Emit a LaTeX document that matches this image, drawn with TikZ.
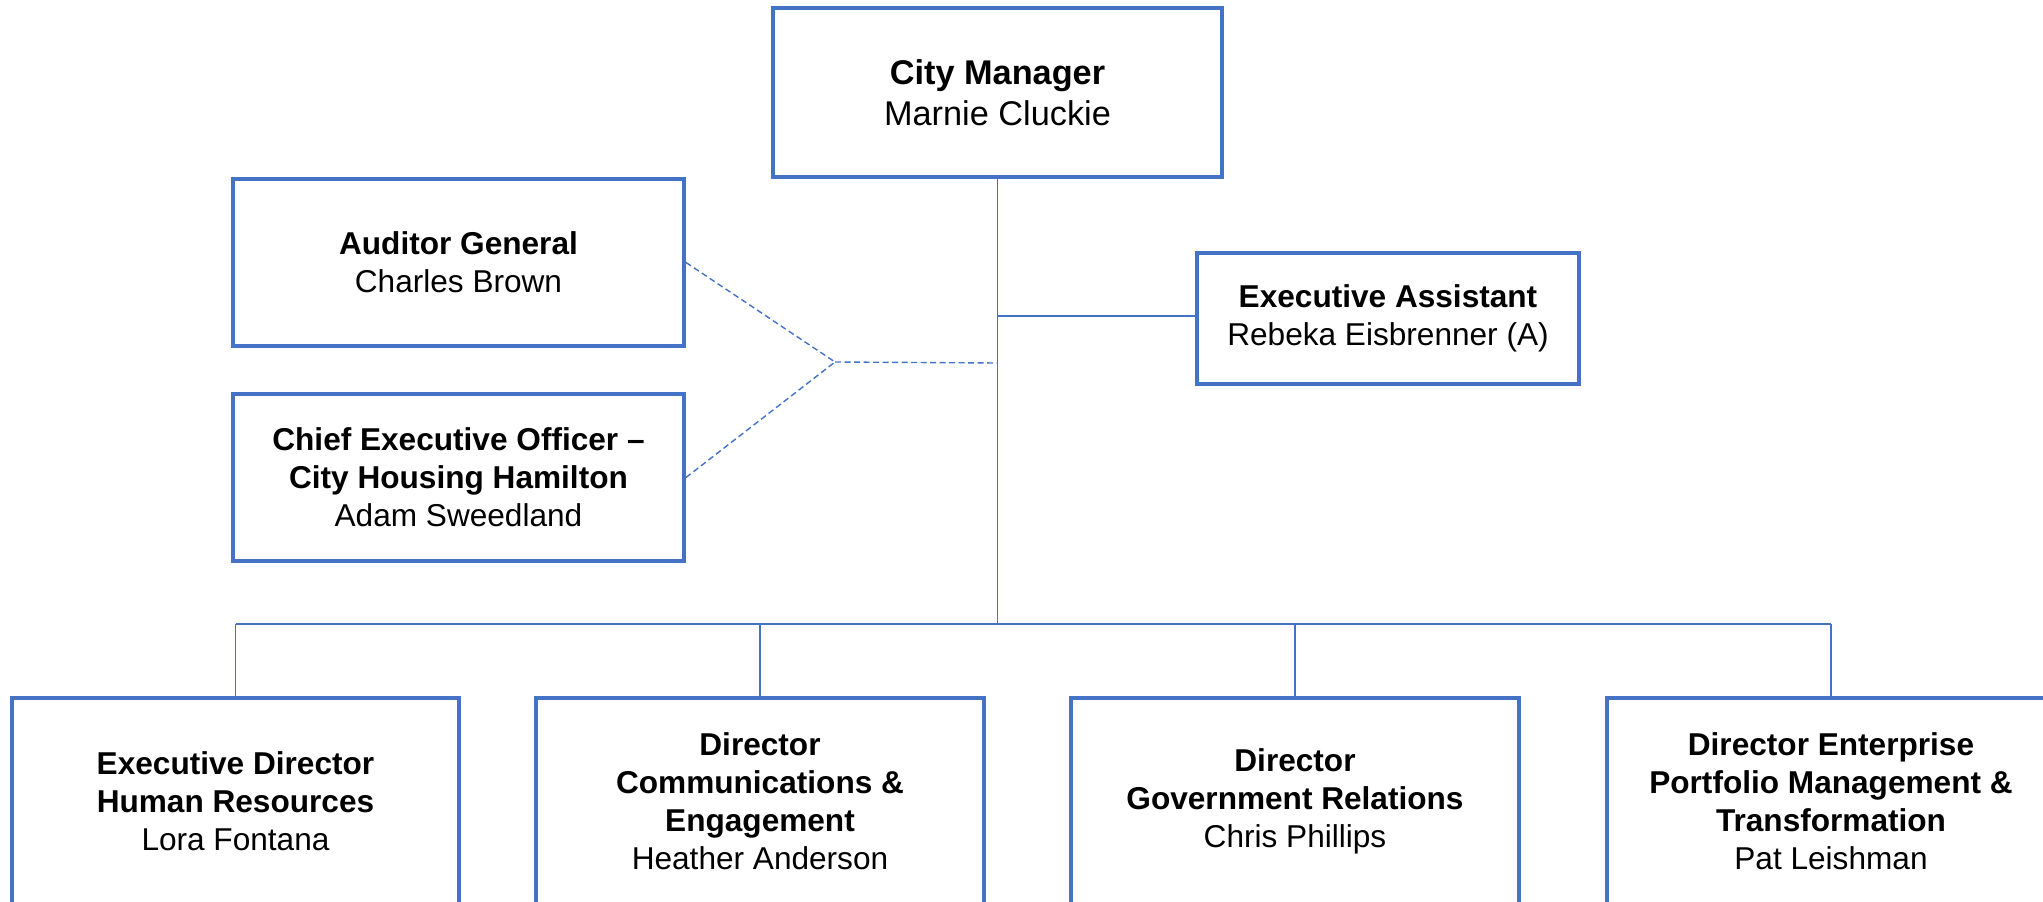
\documentclass[tikz,border=0pt]{standalone}
\usepackage{fontspec}
\setmainfont{Liberation Sans}
\definecolor{boxblue}{HTML}{4472C4}
\tikzset{
  unit box/.style={draw=boxblue, line width=4pt, fill=white, rectangle,
    inner sep=0pt, align=center, text=black,
    font=\fontsize{31.6}{38}\selectfont},
  link/.style={draw=boxblue, line width=1.4pt},
  dotted link/.style={link, dash pattern=on 6pt off 3.5pt}
}
\begin{document}
\begin{tikzpicture}[x=1pt, y=-1pt]
\useasboundingbox (0,0) rectangle (2043,902);
\clip (0,0) rectangle (2043,902);
\fill[white] (0,0) rectangle (2043,902);

% reporting points on the spine
\coordinate (bus)  at (997.5,624);
\coordinate (hub)  at (835,362);
\coordinate (tap)  at (997.5,363);
\coordinate (eaTap) at (997.5,316);

% connectors first, boxes drawn on top
\node[unit box, minimum width=449pt, minimum height=169pt,
      font=\fontsize{34.3}{41.5}\selectfont] (cm) at (997.5,92.5)
  {\textbf{City Manager}\\Marnie Cluckie};

\node[unit box, minimum width=451pt, minimum height=167pt] (ag) at (458.5,262.5)
  {\textbf{Auditor General}\\Charles Brown};
\node[unit box, minimum width=451pt, minimum height=167pt] (ceo) at (458.5,477.5)
  {\textbf{Chief Executive Officer –}\\\textbf{City Housing Hamilton}\\Adam Sweedland};
\node[unit box, minimum width=382pt, minimum height=131pt] (ea) at (1388,318.5)
  {\textbf{Executive Assistant}\\Rebeka Eisbrenner (A)};

\node[unit box, minimum width=447pt, minimum height=206pt] (hr) at (235.5,801)
  {\textbf{Executive Director}\\\textbf{Human Resources}\\Lora Fontana};
\node[unit box, minimum width=448pt, minimum height=206pt] (ce) at (760,801)
  {\textbf{Director}\\\textbf{Communications \&}\\\textbf{Engagement}\\Heather Anderson};
\node[unit box, minimum width=448pt, minimum height=206pt] (gr) at (1295,801)
  {\textbf{Director}\\\textbf{Government Relations}\\Chris Phillips};
\node[unit box, minimum width=448pt, minimum height=206pt] (ep) at (1831,801)
  {\textbf{Director Enterprise}\\\textbf{Portfolio Management \&}\\\textbf{Transformation}\\Pat Leishman};

% solid reporting lines
\draw[link] (cm.south) -- (bus);
\draw[link] (eaTap) -- (eaTap -| ea.west);
\draw[link] (hr.north |- bus) -- (ep.north |- bus);
\foreach \n in {hr,ce,gr,ep}
  \draw[link] (\n.north |- bus) -- (\n.north);

% dotted-line relationships
\draw[dotted link] (ag.east) -- (hub);
\draw[dotted link] (ceo.east) -- (hub);
\draw[dotted link] (hub) -- (tap);
\end{tikzpicture}
\end{document}
